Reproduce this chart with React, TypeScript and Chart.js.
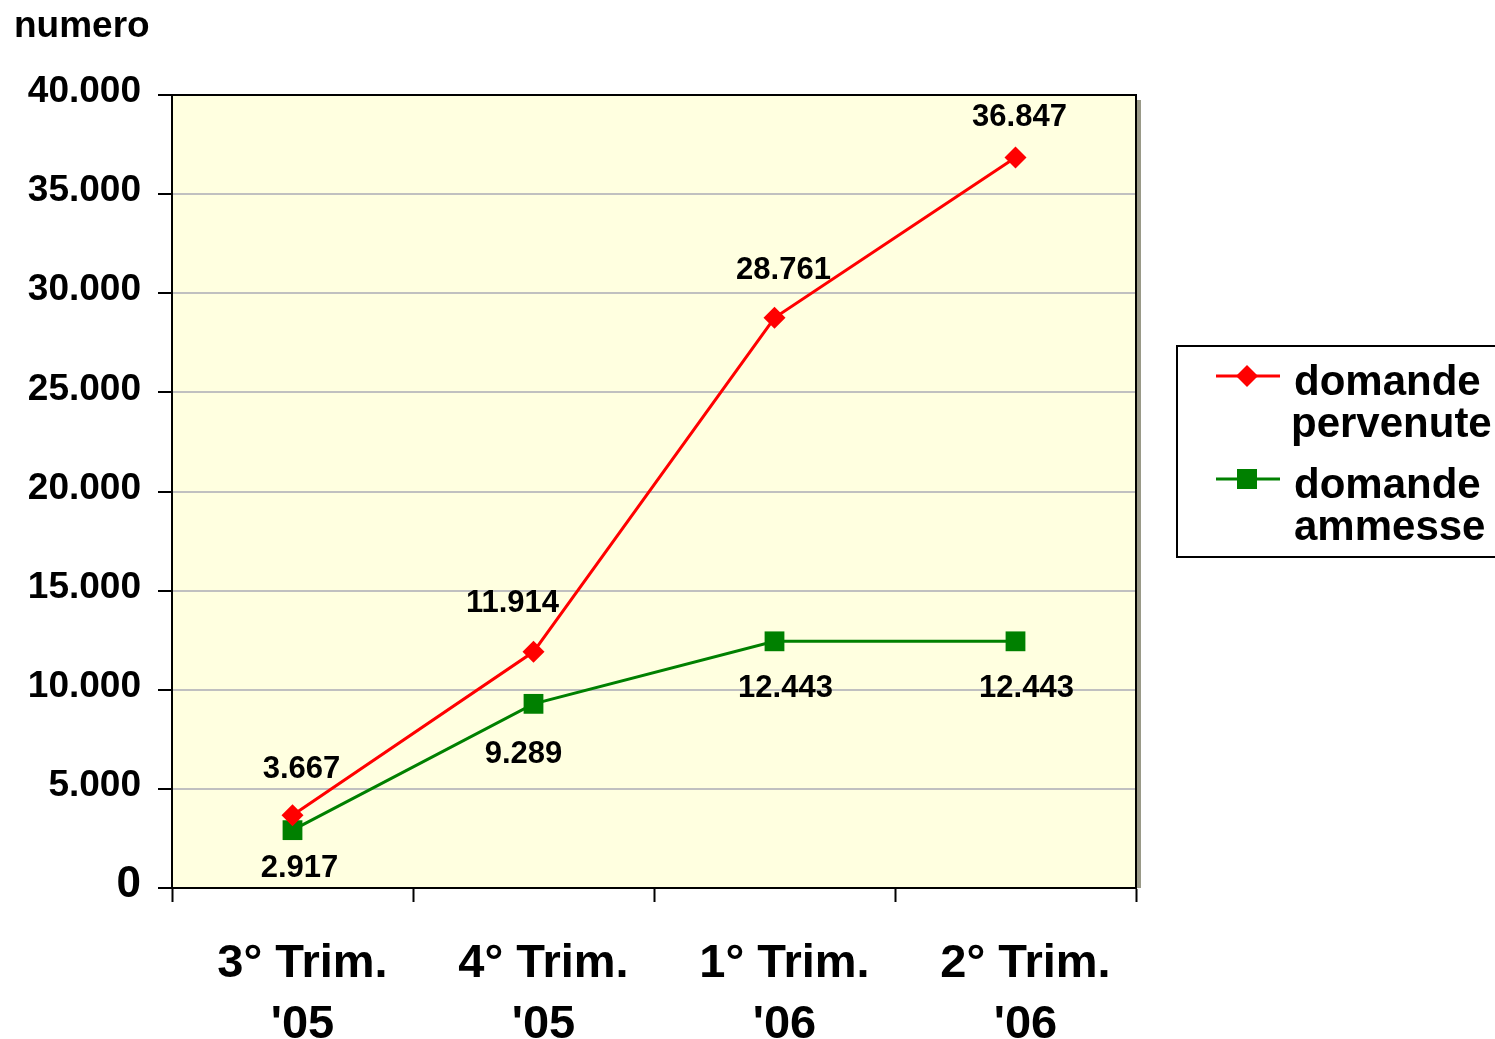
import React, { useEffect, useRef } from "react";
import { Chart, registerables } from "chart.js";

Chart.register(...registerables);

// ---------- data ----------
const categories: string[][] = [
  ["3° Trim.", "'05"],
  ["4° Trim.", "'05"],
  ["1° Trim.", "'06"],
  ["2° Trim.", "'06"],
];
const seriesNames = ["domande pervenute", "domande ammesse"];
const legendLines: string[][] = [
  ["domande", "pervenute"],
  ["domande", "ammesse"],
];
const pervenute = [3667, 11914, 28761, 36847];
const ammesse = [2917, 9289, 12443, 12443];
const yMin = 0;
const yMax = 40000;
const yStep = 5000;
const yAxisTitle = "numero";

// ---------- layout / style ----------
const FONT = "'Liberation Sans', Arial, Helvetica, sans-serif";
const fmt = (v: number) =>
  String(Math.round(v)).replace(/\B(?=(\d{3})+(?!\d))/g, ".");

const W = 1495;
const H = 1039;

// data-label nudges (pixels) per series, per point
const labelNudge: number[][][] = [
  [[9, -46], [-21, -48], [9, -47], [4, -40]],
  [[7, 38], [-10, 51], [11, 47], [11, 47]],
];

const decorPlugin = {
  id: "decor",
  beforeDraw(chart: any) {
    const { ctx, chartArea: a } = chart;
    ctx.save();
    ctx.fillStyle = "#ffffff";
    ctx.fillRect(0, 0, chart.width, chart.height);
    // shadow
    ctx.fillStyle = "#9a9a88";
    ctx.fillRect(a.right + 1, a.top + 5, 4, a.bottom - a.top - 5);
    // plot background
    ctx.fillStyle = "#FFFFE0";
    ctx.fillRect(a.left, a.top, a.right - a.left, a.bottom - a.top);
    ctx.restore();
  },
  afterDatasetsDraw(chart: any) {
    const { ctx } = chart;
    ctx.save();
    ctx.font = `bold 31px ${FONT}`;
    ctx.fillStyle = "#000";
    ctx.textAlign = "center";
    ctx.textBaseline = "middle";
    chart.data.datasets.forEach((ds: any, di: number) => {
      const meta = chart.getDatasetMeta(di);
      meta.data.forEach((pt: any, i: number) => {
        const v = ds.data[i];
        const [dx, dy] = labelNudge[di][i];
        ctx.fillText(fmt(v), pt.x + dx, pt.y + dy);
      });
    });
    ctx.restore();
  },
  afterDraw(chart: any) {
    const { ctx, chartArea: a } = chart;
    ctx.save();
    // plot border top & right
    ctx.strokeStyle = "#000";
    ctx.lineWidth = 2;
    ctx.beginPath();
    ctx.moveTo(a.left, a.top);
    ctx.lineTo(a.right, a.top);
    ctx.lineTo(a.right, a.bottom);
    ctx.stroke();

    // axis title
    ctx.fillStyle = "#000";
    ctx.font = `bold 37px ${FONT}`;
    ctx.textAlign = "left";
    ctx.textBaseline = "alphabetic";
    ctx.fillText(yAxisTitle, 14, 37);

    // legend box
    ctx.lineWidth = 2;
    ctx.strokeStyle = "#000";
    ctx.strokeRect(1177, 346, 340, 211);

    const markerY = [376, 479];
    const textBase = [395, 498];
    chart.data.datasets.forEach((ds: any, di: number) => {
      const my = markerY[di];
      ctx.strokeStyle = ds.borderColor;
      ctx.lineWidth = 3;
      ctx.beginPath();
      ctx.moveTo(1216, my);
      ctx.lineTo(1280, my);
      ctx.stroke();
      ctx.fillStyle = ds.backgroundColor;
      const cx = 1247;
      if (ds.pointStyle === "rectRot") {
        const r = 11;
        ctx.beginPath();
        ctx.moveTo(cx, my - r);
        ctx.lineTo(cx + r, my);
        ctx.lineTo(cx, my + r);
        ctx.lineTo(cx - r, my);
        ctx.closePath();
        ctx.fill();
      } else {
        const s = 10;
        ctx.fillRect(cx - s, my - s, 2 * s, 2 * s);
      }
      ctx.fillStyle = "#000";
      ctx.font = `bold 42px ${FONT}`;
      legendLines[di].forEach((line, li) => {
        const x = line.startsWith("p") ? 1291 : 1294;
        ctx.fillText(line, x, textBase[di] + li * 42);
      });
    });
    ctx.restore();
  },
};

export default function App() {
  const ref = useRef<HTMLCanvasElement | null>(null);

  useEffect(() => {
    document.body.style.margin = "0";
    const canvas = ref.current;
    if (!canvas) return;
    const chart = new Chart(canvas, {
      type: "line",
      data: {
        labels: categories as any,
        datasets: [
          {
            label: seriesNames[0],
            data: pervenute,
            borderColor: "#FF0000",
            backgroundColor: "#FF0000",
            borderWidth: 3,
            pointStyle: "rectRot",
            pointRadius: 11,
            pointBorderWidth: 0,
            tension: 0,
          },
          {
            label: seriesNames[1],
            data: ammesse,
            borderColor: "#008000",
            backgroundColor: "#008000",
            borderWidth: 3,
            pointStyle: "rect",
            pointRadius: 14,
            pointBorderWidth: 0,
            tension: 0,
          },
        ],
      },
      options: {
        animation: false,
        responsive: false,
        devicePixelRatio: 1,
        events: [],
        layout: { padding: { left: 0, top: 95, right: 359, bottom: 0 } },
        plugins: {
          legend: { display: false },
          tooltip: { enabled: false },
          title: { display: false },
        },
        scales: {
          x: {
            offset: true,
            grid: {
              offset: true,
              drawOnChartArea: false,
              tickLength: 14,
              tickColor: "#000",
              tickWidth: 2,
            },
            border: { color: "#000", width: 2 },
            ticks: {
              color: "#000",
              font: { family: FONT, size: 47, weight: "bold", lineHeight: 1.3 },
              padding: 31,
              labelOffset: 10,
              maxRotation: 0,
              minRotation: 0,
              autoSkip: false,
            },
            afterFit: (s: any) => {
              s.height = H - 888;
            },
          },
          y: {
            min: yMin,
            max: yMax,
            grid: {
              color: "#c0c0c0",
              lineWidth: 2,
              tickColor: "#000",
              tickLength: 14,
              tickWidth: 2,
            },
            border: { color: "#000", width: 2 },
            ticks: {
              stepSize: yStep,
              color: "#000",
              padding: 17,
              labelOffset: -3,
              font: (c: any) => ({
                family: FONT,
                weight: "bold",
                size: c.tick && c.tick.value === 0 ? 44 : 37,
              }),
              callback: (v: any) => fmt(Number(v)),
            },
            afterFit: (s: any) => {
              s.width = 172;
            },
          },
        },
      } as any,
      plugins: [decorPlugin],
    });
    return () => chart.destroy();
  }, []);

  return (
    <div style={{ position: "absolute", left: 0, top: 0, width: W, height: H, overflow: "hidden" }}>
      <canvas ref={ref} width={W} height={H} style={{ width: W, height: H, display: "block" }} />
    </div>
  );
}
